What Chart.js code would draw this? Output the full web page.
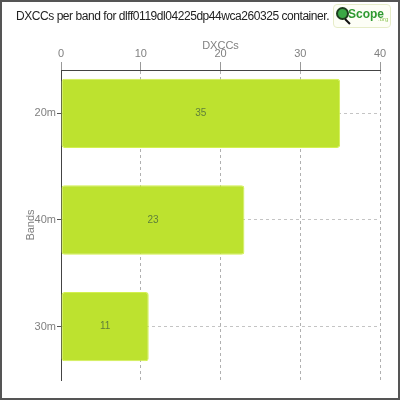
<!DOCTYPE html>
<html>
<head>
<meta charset="utf-8">
<script src="https://cdn.jsdelivr.net/npm/chart.js@4.4.1/dist/chart.umd.min.js"></script>
<style>
  html, body { margin: 0; padding: 0; background: #fff; }
  #wrap { position: relative; width: 400px; height: 400px; }
  #frame { position: absolute; left: 0; top: 0; width: 400px; height: 400px; box-sizing: border-box; border: 2px solid #555; pointer-events: none; }
  #title { position: absolute; left: 16px; top: 9px; font: 12px "Liberation Sans Narrow", sans-serif; letter-spacing: -0.45px; color: #222; white-space: nowrap; }
  #logo { position: absolute; left: 333px; top: 4px; width: 58px; height: 24px; box-sizing: border-box; border: 1px solid #e6ecc8; border-radius: 4px; background: #fdfef6; }
  #logo .globe { position: absolute; left: 2px; top: 2px; width: 9px; height: 9px; border-radius: 50%; background: #3aa845; border: 2px solid #1d3d1d; }
  #logo .handle { position: absolute; left: 11px; top: 13px; width: 7px; height: 2px; background: #111; transform: rotate(45deg); transform-origin: left center; }
  #logo .name { position: absolute; left: 14px; top: 2px; font: bold 12px "Liberation Sans Narrow", sans-serif; color: #2f9a31; }
  #logo .org { position: absolute; left: 44px; top: 11px; font: 6px "Liberation Sans Narrow", sans-serif; color: #8cc456; }
</style>
</head>
<body>
<div id="wrap">
  <canvas id="chart" width="400" height="400"></canvas>
  <div id="title">DXCCs per band for dlff0119dl04225dp44wca260325 container.</div>
  <div id="logo"><span class="globe"></span><span class="handle"></span><span class="name">Scope</span><span class="org">.org</span></div>
  <div id="frame"></div>
</div>
<script>
const bandLabels = ["20m", "40m", "30m"];
const dxccCounts = [35, 23, 11];
const xTicks = [0, 10, 20, 30, 40];

const barFill = "#bde22f";
const barEdge = "#d3f050";
const labelColor = "#5f7f3a";
const tickColor = "#808080";
const axisFont = { family: "'Liberation Sans Narrow', sans-serif", size: 11 };

// bar values written in the middle of each bar
const barValueLabels = {
  id: "barValueLabels",
  afterDatasetsDraw(chart) {
    const ctx = chart.ctx;
    const meta = chart.getDatasetMeta(0);
    ctx.save();
    ctx.font = "10px 'Liberation Sans Narrow', sans-serif";
    ctx.fillStyle = labelColor;
    ctx.textAlign = "center";
    ctx.textBaseline = "middle";
    meta.data.forEach((bar, i) => {
      ctx.fillText(String(dxccCounts[i]), (bar.x + bar.base) / 2, bar.y);
    });
    ctx.restore();
  },
};

new Chart(document.getElementById("chart"), {
  type: "bar",
  data: {
    datasets: [
      {
        label: "DXCCs",
        data: dxccCounts.map((v, i) => ({ x: v, y: i })),
        backgroundColor: barFill,
        borderColor: barEdge,
        borderWidth: 1,
        borderRadius: 3,
        borderSkipped: false,
        categoryPercentage: 1,
        barPercentage: 0.65,
      },
    ],
  },
  options: {
    indexAxis: "y",
    responsive: false,
    animation: false,
    layout: { padding: { left: 0, right: 20, top: 32, bottom: 20 } },
    plugins: {
      legend: { display: false },
      tooltip: { enabled: false },
    },
    scales: {
      x: {
        position: "top",
        min: 0,
        max: 40,
        afterFit(scale) { scale.height = 38; },
        afterBuildTicks(scale) { scale.ticks = xTicks.map((v) => ({ value: v })); },
        border: { display: true, color: "#444", width: 1, dash: [3, 3] },
        grid: { color: "#b0b0b0", tickLength: 8, tickColor: "#999" },
        ticks: { color: tickColor, font: axisFont, padding: 1 },
        title: { display: true, text: "DXCCs", color: tickColor, font: axisFont, padding: { top: 7, bottom: 0 } },
      },
      y: {
        type: "linear",
        reverse: true,
        offset: false,
        min: -0.406,
        max: 2.5,
        afterFit(scale) { scale.width = 61; },
        afterBuildTicks(scale) { scale.ticks = bandLabels.map((_, i) => ({ value: i })); },
        border: { display: true, color: "#444", width: 1, dash: [3, 3] },
        grid: { offset: false, color: "#c4c4c4", tickLength: 4, tickColor: "#555" },
        ticks: { color: tickColor, font: axisFont, padding: 1, callback: (v) => bandLabels[v] },
        title: { display: true, text: "Bands", color: tickColor, font: axisFont, padding: { top: 24, bottom: 0 } },
      },
    },
  },
  plugins: [barValueLabels],
});
</script>
</body>
</html>
